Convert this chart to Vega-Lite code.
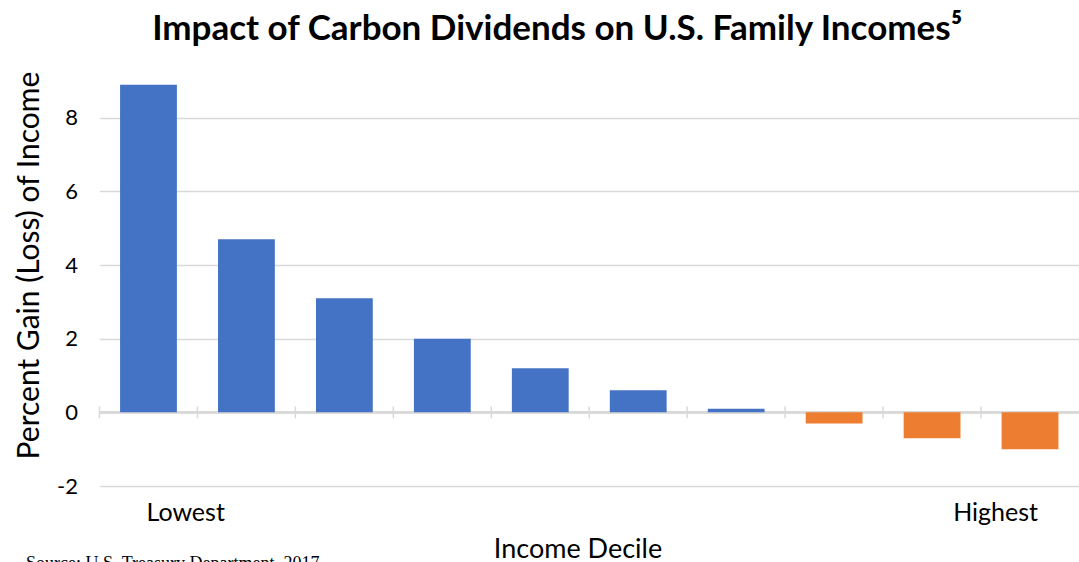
{
  "$schema": "https://vega.github.io/schema/vega-lite/v6.json",
  "width": 979.5,
  "height": 405,
  "autosize": {"type": "none"},
  "padding": {"left": 99.5, "top": 81, "right": 0, "bottom": 76},
  "background": "white",
  "title": {
    "text": "Impact of Carbon Dividends on U.S. Family Incomes⁵",
    "font": "Lato",
    "fontSize": 35,
    "fontWeight": "bold",
    "color": "black",
    "anchor": "middle",
    "frame": "group",
    "dx": -32,
    "offset": 24
  },
  "data": {
    "values": [
      {"decile": 1, "value": 8.9},
      {"decile": 2, "value": 4.7},
      {"decile": 3, "value": 3.1},
      {"decile": 4, "value": 2.0},
      {"decile": 5, "value": 1.2},
      {"decile": 6, "value": 0.6},
      {"decile": 7, "value": 0.1},
      {"decile": 8, "value": -0.3},
      {"decile": 9, "value": -0.7},
      {"decile": 10, "value": -1.0}
    ]
  },
  "config": {
    "view": {"stroke": null},
    "axis": {"labelColor": "black", "titleColor": "black", "labelFont": "Lato", "titleFont": "Lato", "titleFontWeight": "normal"}
  },
  "resolve": {"axis": {"x": "independent"}},
  "layer": [
    {
      "mark": {"type": "rule", "color": "#d9d9d9", "strokeWidth": 2},
      "encoding": {"y": {"datum": 0, "type": "quantitative"}}
    },
    {
      "mark": {"type": "bar"},
      "encoding": {
        "x": {
          "field": "decile",
          "type": "ordinal",
          "sort": null,
          "scale": {"paddingInner": 0.42, "paddingOuter": 0.21},
          "axis": {
            "orient": "bottom",
            "title": "Income Decile",
            "titleFontSize": 27,
            "titlePadding": 11,
            "titleX": 478,
            "labelExpr": "datum.value == 1 ? 'Lowest' : datum.value == 10 ? 'Highest' : ''",
            "labelAlign": {"condition": {"test": "datum.value == 1", "value": "left"}, "value": "right"},
            "labelAngle": 0,
            "labelFontSize": 25,
            "labelPadding": 14,
            "labelOffset": {"condition": {"test": "datum.value == 10", "value": 8}, "value": -2},
            "domain": false,
            "ticks": false,
            "grid": false
          }
        },
        "y": {
          "field": "value",
          "type": "quantitative",
          "scale": {"domain": [-2, 9], "nice": false},
          "axis": {
            "title": "Percent Gain (Loss) of Income",
            "values": [-2, 0, 2, 4, 6, 8],
            "labelExpr": "toString(datum.value)",
            "domain": false,
            "ticks": false,
            "grid": true,
            "gridColor": "#d9d9d9",
            "gridWidth": 1.5,
            "labelFontSize": 22,
            "labelPadding": 22,
            "titleFontSize": 30,
            "titlePadding": 12,
            "titleY": 184
          }
        },
        "color": {"condition": {"test": "datum.value >= 0", "value": "#4472C4"}, "value": "#ED7D31"}
      }
    },
    {
      "mark": {"type": "rule", "color": "#d9d9d9", "strokeWidth": 1.5, "xOffset": -20.6},
      "encoding": {
        "x": {
          "field": "decile",
          "type": "ordinal",
          "sort": null,
          "bandPosition": 0,
          "axis": {
            "orient": "bottom",
            "title": "Source: U.S. Treasury Department, 2017",
            "titleFont": "Liberation Serif",
            "titleFontSize": 18,
            "titleX": -74,
            "titleY": 82,
            "titleAlign": "left",
            "titleBaseline": "alphabetic",
            "labels": false,
            "domain": false,
            "ticks": false,
            "grid": false
          }
        },
        "y": {"datum": 0.16, "type": "quantitative"},
        "y2": {"datum": -0.16}
      }
    }
  ]
}
